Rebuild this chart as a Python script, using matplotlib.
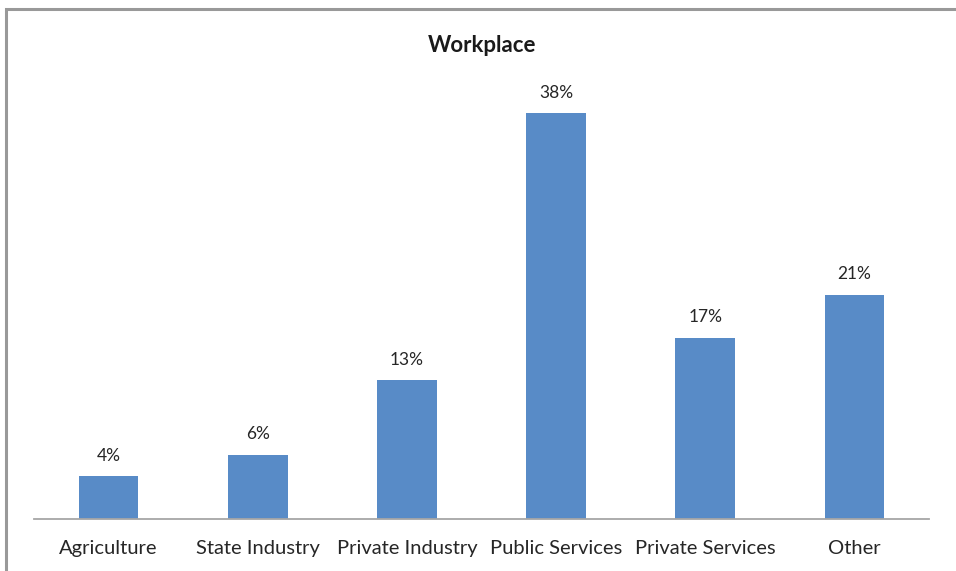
import matplotlib.pyplot as plt
from matplotlib.patches import Rectangle

categories = ["Agriculture", "State Industry", "Private Industry",
              "Public Services", "Private Services", "Other"]
shares = [4, 6, 13, 38, 17, 21]

plt.rcParams['font.family'] = ['Lato', 'DejaVu Sans']

W, H = 956, 571
fig = plt.figure(figsize=(W / 100, H / 100), dpi=100)
ax = fig.add_axes([34 / W, (H - 519) / H, (929 - 34) / W, (519 - 92) / H])

x = list(range(len(categories)))
ax.bar(x, shares, width=0.4, color='#588BC7')
for xi, v in zip(x, shares):
    ax.annotate("{}%".format(v), (xi, v), xytext=(0, 9), textcoords='offset points',
                ha='center', va='bottom', fontsize=12.5, color='#262626')

ax.set_xlim(-0.5, len(categories) - 0.5)
ax.set_ylim(0, 40)
ax.set_xticks(x)
ax.set_xticklabels(categories, fontsize=14.5, color='#262626')
ax.tick_params(axis='x', length=0, pad=15)
ax.set_yticks([])
for side in ['top', 'right', 'left']:
    ax.spines[side].set_visible(False)
ax.spines['bottom'].set_color('#A6A6A6')
ax.spines['bottom'].set_linewidth(1.3)

fig.text(482 / W, 1 - 45 / H, "Workplace", ha='center', va='center',
         fontsize=16, fontweight='bold', color='#1a1a1a')

# chart frame, open to the right and bottom
fig.patches.append(Rectangle((6 / W, -0.1), 1.2, (H - 9) / H + 0.1,
                             transform=fig.transFigure, fill=False,
                             edgecolor='#999999', linewidth=2.2, clip_on=False))

fig.savefig("out.png", dpi=100)
